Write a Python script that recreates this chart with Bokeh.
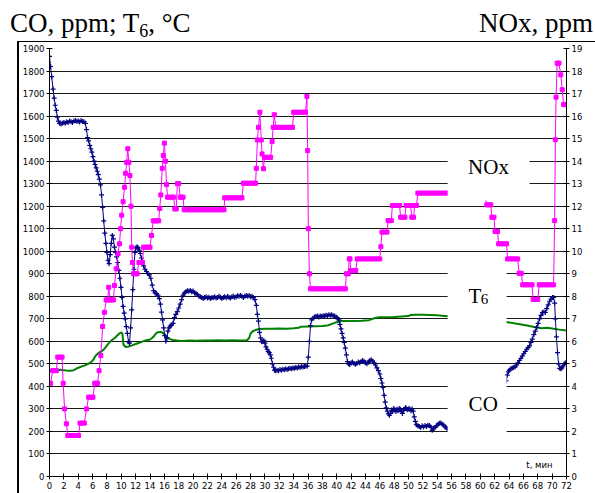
from bokeh.plotting import figure
from bokeh.models import Range1d, LinearAxis, FixedTicker, Label, BoxAnnotation, Div
from bokeh.layouts import column, row
from bokeh.embed import file_html
from bokeh.resources import INLINE

# ---------------- data ----------------
co_t = [0.0, 0.15, 0.3, 0.5, 0.65, 0.8, 0.95, 1.1, 1.25, 1.4, 1.6, 1.8, 2.0, 2.2, 2.4, 2.6, 2.8, 3.0, 3.2, 3.4,
        3.6, 3.8, 4.0, 4.2, 4.4, 4.6, 4.8, 5.0, 5.15, 5.3, 5.45, 5.6, 5.75, 5.9, 6.05, 6.2, 6.35, 6.5, 6.65, 6.8,
        6.95, 7.1, 7.25, 7.4, 7.55, 7.7, 7.85, 8.0, 8.15, 8.3, 8.45, 8.6, 8.75, 8.9, 9.05, 9.2, 9.35, 9.5, 9.65, 9.8,
        9.95, 10.1, 10.25, 10.4, 10.55, 10.7, 10.85, 11.0, 11.15, 11.3, 11.45, 11.6, 11.75, 11.9, 12.05, 12.2, 12.35,
        12.5, 12.65, 12.8, 12.95, 13.1, 13.3, 13.5, 13.7, 13.9, 14.1, 14.3, 14.5, 14.7, 14.9, 15.1, 15.3, 15.45,
        15.6, 15.75, 15.9, 16.05, 16.2, 16.35, 16.5, 16.65, 16.8, 17.0, 17.2, 17.4, 17.6, 17.8, 18.0, 18.2, 18.4,
        18.6, 18.8, 19.0, 19.2, 19.4, 19.6, 19.8, 20.0, 20.2, 20.4, 20.6, 20.8, 21.0, 21.2, 21.4, 21.6, 21.8, 22.0,
        22.2, 22.4, 22.6, 22.8, 23.0, 23.2, 23.4, 23.6, 23.8, 24.0, 24.2, 24.4, 24.6, 24.8, 25.0, 25.2, 25.4, 25.6,
        25.8, 26.0, 26.2, 26.4, 26.6, 26.8, 27.0, 27.2, 27.4, 27.6, 27.8, 28.0, 28.2, 28.4, 28.6, 28.8, 28.95, 29.1,
        29.25, 29.4, 29.55, 29.7, 29.85, 30.0, 30.15, 30.3, 30.45, 30.6, 30.75, 30.9, 31.05, 31.2, 31.35, 31.5, 31.7,
        31.9, 32.1, 32.3, 32.5, 32.7, 32.9, 33.1, 33.3, 33.5, 33.7, 33.9, 34.1, 34.3, 34.5, 34.7, 34.9, 35.1, 35.3,
        35.5, 35.7, 35.9, 36.05, 36.2, 36.35, 36.5, 36.7, 36.9, 37.1, 37.3, 37.5, 37.7, 37.9, 38.1, 38.3, 38.5, 38.7,
        38.9, 39.1, 39.3, 39.5, 39.7, 39.9, 40.1, 40.3, 40.45, 40.6, 40.75, 40.9, 41.05, 41.2, 41.35, 41.5, 41.65,
        41.8, 42.0, 42.2, 42.4, 42.6, 42.8, 43.0, 43.2, 43.4, 43.6, 43.8, 44.0, 44.2, 44.4, 44.6, 44.8, 45.0, 45.2,
        45.4, 45.6, 45.8, 46.0, 46.15, 46.3, 46.45, 46.6, 46.75, 46.9, 47.05, 47.2, 47.35, 47.5, 47.65, 47.8, 47.95,
        48.1, 48.25, 48.4, 48.55, 48.7, 48.85, 49.0, 49.15, 49.3, 49.45, 49.6, 49.75, 49.9, 50.05, 50.2, 50.35, 50.5,
        50.65, 50.8, 50.95, 51.1, 51.3, 51.5, 51.7, 51.9, 52.1, 52.3, 52.5, 52.7, 52.9, 53.1, 53.3, 53.5, 53.7, 53.9,
        54.1, 54.3, 54.5, 54.7, 54.9, 55.1, 55.3, 55.5, 56.5, 57.5, 58.5, 59.5, 60.5, 61.5, 62.5, 63.2,
        63.6, 63.75, 63.9, 64.05, 64.25, 64.45, 64.65, 64.85, 65.05, 65.25, 65.45, 65.65, 65.85, 66.05, 66.25,
        66.45, 66.65, 66.85, 67.05, 67.25, 67.45, 67.65, 67.85, 68.05, 68.25, 68.45, 68.65, 68.85, 69.05, 69.25,
        69.45, 69.65, 69.85, 70.05, 70.2, 70.35, 70.45, 70.6, 70.75, 70.9, 71.05, 71.2, 71.35, 71.5, 71.7, 71.9, 72.0]
co_ppm = [1865, 1820, 1775, 1720, 1680, 1648, 1625, 1595, 1578, 1568, 1565, 1568, 1572, 1568, 1575, 1572, 1578, 1575,
          1572, 1578, 1580, 1576, 1578, 1574, 1580, 1576, 1575, 1568, 1540, 1505, 1490, 1470, 1455, 1440, 1420, 1400,
          1385, 1370, 1355, 1340, 1320, 1295, 1250, 1195, 1135, 1080, 1035, 995, 960, 945, 985, 1035, 1070, 1055,
          1018, 995, 975, 950, 915, 880, 840, 795, 755, 725, 700, 665, 635, 598, 592, 660, 740, 830, 920, 995, 1015,
          1020, 1015, 1005, 990, 970, 955, 935, 920, 910, 900, 895, 880, 850, 825, 815, 812, 805, 790, 765, 730, 695,
          660, 625, 600, 615, 645, 660, 668, 672, 680, 705, 720, 732, 748, 765, 785, 805, 815, 820, 825, 822, 826,
          820, 823, 815, 812, 808, 800, 798, 795, 790, 795, 798, 792, 796, 790, 795, 793, 798, 792, 795, 800, 796,
          790, 795, 798, 793, 800, 795, 792, 798, 800, 795, 798, 802, 800, 803, 800, 795, 800, 804, 800, 803, 798,
          800, 795, 785, 760, 720, 690, 640, 615, 598, 600, 604, 592, 575, 565, 555, 550, 540, 525, 500, 485, 472,
          470, 472, 470, 475, 472, 476, 474, 478, 475, 478, 480, 478, 482, 480, 484, 482, 486, 484, 488, 486, 488,
          490, 490, 530, 600, 670, 695, 702, 708, 710, 712, 708, 712, 710, 714, 712, 716, 714, 718, 716, 718, 714,
          712, 708, 704, 695, 675, 655, 635, 615, 595, 570, 540, 510, 500, 497, 505, 508, 502, 498, 502, 508, 505,
          510, 515, 512, 505, 500, 508, 515, 518, 512, 505, 495, 482, 470, 455, 435, 415, 395, 360, 330, 305, 290,
          278, 272, 280, 295, 290, 302, 295, 288, 298, 292, 302, 298, 288, 280, 295, 300, 306, 300, 296, 302, 298,
          292, 300, 290, 265, 245, 230, 225, 222, 218, 225, 220, 226, 222, 228, 226, 220, 205, 215, 218, 225, 232,
          236, 238, 232, 228, 220, 215, 210, 218, 225, 235, 250, 280, 320, 370, 405,
          425, 450, 465, 472, 478, 482, 484, 487, 495, 505, 515, 525, 535, 545, 555, 565, 572, 580, 595, 610, 630,
          645, 662, 680, 700, 715, 728, 730, 728, 745, 762, 778, 788, 795, 795, 770, 700, 620, 550, 500, 480, 478,
          482, 490, 500, 505, 505]

t6_t = [0.0, 0.5, 1.0, 1.5, 2.0, 2.5, 3.0, 3.4, 3.8, 4.2, 4.6, 5.0, 5.4, 5.8, 6.1, 6.4, 6.7, 7.0, 7.3, 7.6, 7.9,
        8.2, 8.5, 8.8, 9.1, 9.4, 9.7, 10.0, 10.15, 10.3, 10.6, 11.0, 11.5, 12.0, 12.5, 13.0, 13.5, 14.0, 14.3, 14.6,
        14.9, 15.2, 15.5, 15.8, 16.1, 16.4, 16.8, 17.2, 17.8, 18.5, 19.5, 20.5, 21.5, 22.5, 23.5, 24.5, 25.5, 26.5,
        27.5, 27.8, 28.0, 28.3, 28.7, 29.2, 30.0, 31.0, 32.0, 33.0, 34.0, 34.7, 35.0, 36.0, 37.0, 38.0, 38.7, 39.2,
        39.7, 40.1, 40.5, 41.5, 42.5, 43.5, 44.5, 45.0, 45.5, 46.0, 47.0, 48.0, 49.0, 50.0, 50.3, 51.0, 52.0, 53.0,
        54.0, 55.0, 55.5, 57.0, 59.0, 61.0, 63.0, 63.6, 64.5, 65.5, 66.5, 67.5, 68.5, 69.3, 70.0, 71.0, 72.0]
t6_c = [470, 470, 472, 474, 472, 470, 470, 472, 480, 485, 490, 494, 500, 508, 518, 535, 545, 552, 557, 565, 578,
        590, 600, 608, 615, 625, 634, 640, 635, 585, 575, 577, 582, 588, 594, 600, 605, 608, 615, 625, 638, 640,
        642, 637, 628, 618, 610, 606, 604, 602, 604, 603, 604, 604, 605, 604, 605, 604, 605, 615, 635, 645, 650,
        655, 656, 656, 657, 656, 658, 660, 665, 666, 667, 668, 670, 676, 682, 686, 690, 690, 690, 691, 694, 700,
        705, 707, 707, 708, 710, 712, 717, 718, 718, 717, 716, 713, 711, 707, 702, 696, 690, 686, 681, 676, 670,
        664, 658, 660, 657, 652, 648]

nox_t = [0.15, 0.45, 0.7, 0.95, 1.15, 1.45, 1.75, 1.9, 2.1, 2.35, 2.55, 2.85, 3.15, 3.45, 3.75, 4.05, 4.25, 4.55,
         4.85, 5.15, 5.45, 5.75, 6.05, 6.3, 6.5, 6.7, 6.9, 7.15, 7.4, 7.65, 7.9, 8.1, 8.25, 8.45, 8.65, 8.9, 9.05,
         9.3, 9.55, 9.75, 9.9, 10.05, 10.25, 10.45, 10.6, 10.75, 10.9, 11.05, 11.2, 11.35, 11.45, 11.55, 11.7,
         11.95, 12.2, 12.45, 12.7, 12.95, 13.1, 13.4, 13.7, 14.0, 14.2, 14.45, 14.7, 14.95, 15.2, 15.35, 15.5, 15.7,
         15.85, 16.0, 16.15, 16.3, 16.45, 16.75, 17.05, 17.3, 17.45, 17.65, 17.8, 18.0, 18.2, 18.4, 18.6, 18.75,
         19.1, 19.45, 19.8, 20.15, 20.5, 20.85, 21.2, 21.55, 21.9, 22.25, 22.6, 22.95, 23.3, 23.65, 24.0, 24.3,
         24.4, 24.75, 25.1, 25.45, 25.8, 26.15, 26.5, 26.8, 27.0, 27.35, 27.7, 28.05, 28.4, 28.7, 28.8, 28.95,
         29.1, 29.3, 29.5, 29.6, 29.8, 29.95, 30.25, 30.55, 30.8, 31.0, 31.15, 31.3, 31.5, 31.8, 32.1, 32.45, 32.8,
         33.15, 33.5, 33.85, 34.0, 34.3, 34.6, 34.95, 35.3, 35.65, 35.85, 35.95, 36.05, 36.2, 36.35, 36.7, 37.05,
         37.4, 37.75, 38.1, 38.45, 38.8, 39.15, 39.5, 39.85, 40.2, 40.55, 40.9, 41.2, 41.35, 41.6, 41.75, 41.85,
         41.95, 42.3, 42.65, 42.85, 43.2, 43.55, 43.9, 44.25, 44.6, 44.95, 45.3, 45.65, 46.0, 46.15, 46.3, 46.65,
         47.0, 47.15, 47.4, 47.6, 47.75, 48.05, 48.4, 48.75, 48.9, 49.2, 49.5, 49.65, 50.0, 50.3, 50.45, 50.7,
         50.85, 51.1, 51.3, 51.65, 52.0, 52.35, 52.7, 53.05, 53.4, 53.75, 54.1, 54.45, 54.8, 55.15, 55.5, 56.0,
         57.0, 58.0, 59.0, 60.0, 60.55, 60.9, 61.2, 61.45, 61.6, 61.9, 62.05, 62.4, 62.55, 62.9, 63.25, 63.65,
         63.8, 64.15, 64.5, 64.85, 65.2, 65.4, 65.7, 65.9, 66.2, 66.5, 66.85, 67.2, 67.35, 67.7, 68.0, 68.2, 68.5,
         68.85, 69.2, 69.55, 69.9, 70.2, 70.35, 70.45, 70.55, 70.7, 70.95, 71.2, 71.4, 71.6, 71.85, 72.0]
nox_ppm = [4.14, 4.7, 4.7, 4.7, 5.3, 5.3, 5.3, 4.14, 3.0, 2.34, 1.82, 1.82, 1.82, 1.82, 1.82, 1.82, 2.37, 2.37,
           2.37, 3.0, 3.52, 3.52, 3.52, 4.14, 4.14, 4.14, 4.7, 5.37, 6.66, 7.29, 7.84, 7.84, 8.4, 7.84, 7.84, 7.84,
           8.48, 9.22, 9.89, 10.33, 11.0, 11.6, 12.2, 12.84, 13.46, 13.95, 14.55, 13.95, 13.36, 12.0, 10.18, 9.5,
           9.0, 9.0, 9.0, 9.5, 9.5, 9.5, 10.18, 10.18, 10.18, 10.18, 10.7, 11.35, 11.35, 11.35, 11.35, 11.9, 12.5,
           13.68, 14.25, 14.8, 14.0, 12.96, 12.4, 12.4, 12.4, 12.4, 11.88, 11.88, 13.0, 13.0, 12.4, 12.4, 12.4,
           11.84, 11.84, 11.84, 11.84, 11.84, 11.84, 11.84, 11.84, 11.84, 11.84, 11.84, 11.84, 11.84, 11.84,
           11.84, 11.84, 11.84, 12.37, 12.37, 12.37, 12.37, 12.37, 12.37, 12.37, 12.37, 13.02, 13.02, 13.02, 13.02,
           13.02, 13.02, 13.68, 14.94, 15.5, 16.17, 14.94, 14.32, 13.66, 14.17, 14.17, 14.17, 14.17, 14.87, 15.5,
           16.06, 15.5, 15.5, 15.5, 15.5, 15.5, 15.5, 15.5, 15.5, 16.17, 16.17, 16.17, 16.17, 16.17, 16.17, 16.87,
           14.47, 11.0, 9.0, 8.33, 8.33, 8.33, 8.33, 8.33, 8.33, 8.33, 8.33, 8.33, 8.33, 8.33, 8.33, 8.33, 8.33,
           8.33, 9.0, 9.0, 9.66, 9.66, 9.14, 9.14, 9.14, 9.66, 9.66, 9.66, 9.66, 9.66, 9.66, 9.66, 9.66, 9.66,
           9.66, 10.2, 10.85, 10.85, 10.85, 11.36, 11.36, 11.36, 12.03, 12.03, 12.03, 12.03, 11.51, 11.51, 11.51,
           12.03, 12.03, 12.03, 11.51, 11.51, 12.03, 12.03, 12.58, 12.58, 12.58, 12.58, 12.58, 12.58, 12.58, 12.58,
           12.58, 12.58, 12.58, 12.58, 12.58, 12.58, 12.58, 12.58, 12.58, 12.58, 12.58, 12.06, 12.06, 12.06,
           11.51, 11.51, 10.88, 10.88, 10.33, 10.33, 10.33, 10.33, 9.66, 9.66, 9.66, 9.66, 9.66, 9.02, 9.02, 8.51,
           8.51, 8.51, 8.51, 8.51, 7.86, 7.86, 7.86, 8.51, 8.51, 8.51, 8.51, 8.51, 8.51, 8.51, 11.36, 14.95, 16.84,
           18.35, 18.35, 17.83, 17.17, 16.51, 16.51, 16.51]

x_ticks = list(range(0, 73, 2))
left_ticks = list(range(0, 1901, 100))
right_ticks = list(range(0, 20))

# ---------------- figure (chart area starts at x=18, y=42 of the page) ----------------
p = figure(width=577, height=451, output_backend="svg", toolbar_location=None,
           x_range=Range1d(0, 72), y_range=Range1d(0, 1900),
           min_border_left=31, min_border_right=29, min_border_top=6, min_border_bottom=17)
p.extra_y_ranges = {"nox": Range1d(0, 19)}
p.outline_line_color = None
p.background_fill_color = "white"
p.border_fill_color = None
p.margin = (0, 0, 0, 0)

TICK_FONT = "DejaVu Sans"
TICK_SIZE = "8.5px"

def style_axis(ax, ticks):
    ax.ticker = FixedTicker(ticks=ticks)
    ax.axis_line_color = "black"
    ax.axis_line_width = 1
    ax.major_tick_line_color = "black"
    ax.major_tick_in = 3
    ax.major_tick_out = 3
    ax.minor_tick_line_color = None
    ax.major_label_text_font = TICK_FONT
    ax.major_label_text_font_size = TICK_SIZE
    ax.major_label_text_color = "black"
    ax.major_label_standoff = 2

style_axis(p.xaxis[0], x_ticks)
style_axis(p.yaxis[0], left_ticks)
rax = LinearAxis(y_range_name="nox")
style_axis(rax, right_ticks)
p.add_layout(rax, "right")

p.xgrid.visible = False
p.ygrid.ticker = FixedTicker(ticks=left_ticks)
p.ygrid.grid_line_color = "#1a1a1a"
p.ygrid.grid_line_width = 1

# ---------------- series ----------------
p.line(t6_t, t6_c, line_color="#008000", line_width=2)
p.line(co_t, co_ppm, line_color="#000080", line_width=1)
p.scatter(co_t, co_ppm, marker="cross", size=5, line_color="#000080", line_width=1.2)
p.line(nox_t, nox_ppm, line_color="#FF00FF", line_width=1, y_range_name="nox")
p.scatter(nox_t, nox_ppm, marker="square", size=4, fill_color="#FF00FF", line_color="#FF00FF",
          y_range_name="nox")

# ---------------- masks behind the in-plot labels ----------------
for (l, r, b, t) in [(55.45, 66.85, 1225, 1470), (55.45, 63.65, 670, 937), (55.45, 63.65, 182, 448)]:
    p.add_layout(BoxAnnotation(left=l, right=r, bottom=b, top=t, fill_color="white", fill_alpha=1.0,
                               line_color=None))

SERIF = "Liberation Serif"

def lab(x, y, text, size, align="left", baseline="alphabetic", font=SERIF):
    p.add_layout(Label(x=x, y=y, text=text, text_font=font, text_font_size=size,
                       text_align=align, text_baseline=baseline, text_color="black"))

lab(61.14, 1372, "NOx", "21px", align="center")
lab(58.35, 800, "T", "21px")
lab(60.05, 790, "6", "15px")
lab(60.4, 322, "CO", "21px", align="center")
lab(70.06, 53, "t, мин", "8.5px", align="right", baseline="middle", font=TICK_FONT)

# ---------------- titles above the chart area (with the chart-area top border) ----------------
title_html = (
    '<div style="position:relative;width:595px;height:42px;color:black;'
    'font-family:\'Liberation Serif\',serif;">'
    '<span style="position:absolute;left:10px;top:10px;font-size:27px;line-height:27px;white-space:nowrap;">'
    'CO, ppm; T<span style="font-size:18px;position:relative;top:5px;">6</span>, °C</span>'
    '<span style="position:absolute;right:2px;top:10px;font-size:27px;line-height:27px;white-space:nowrap;">'
    'NOx, ppm</span>'
    '<div style="position:absolute;left:17px;top:41px;width:578px;height:0px;'
    'border-top:1px solid #000;"></div>'
    '</div>'
)
titles = Div(text=title_html, width=595, height=42, margin=(0, 0, 0, 0))

# left border of the chart area
left_edge = Div(text='<div style="width:0px;height:451px;border-left:1px solid #000;"></div>',
                width=1, height=451, margin=(0, 0, 0, 17), styles={"border-left": "1px solid #000"})

layout = column(titles, row(left_edge, p, spacing=0), spacing=0)
open("out.html", "w").write(file_html(layout, INLINE))
